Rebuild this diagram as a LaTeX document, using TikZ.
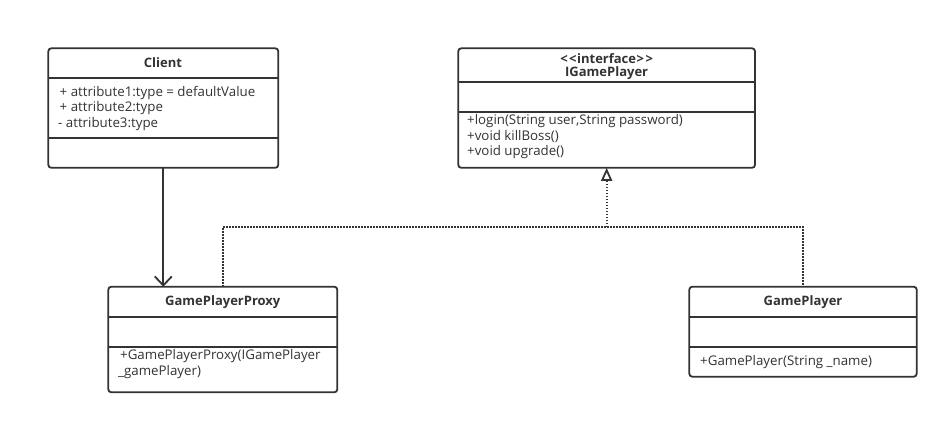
\documentclass[tikz,border=0pt]{standalone}
\usepackage{fontspec}
\setmainfont{Open Sans}
\usetikzlibrary{arrows.meta}
\definecolor{ink}{HTML}{333333}
\begin{document}
\begin{tikzpicture}[x=1pt,y=-1pt,
  box/.style={draw=ink, line width=1.8pt, rounded corners=3pt, outer sep=0pt, inner sep=0pt, anchor=north west},
  sepline/.style={draw=ink, line width=1.8pt},
  ttl/.style={font=\fontsize{13}{15}\selectfont\bfseries, text=ink, inner sep=0pt},
  txt/.style={font=\fontsize{13.3}{15}\selectfont, text=ink, inner sep=0pt, anchor=west},
  assoc/.style={draw=ink, line width=1.8pt, -{Straight Barb[length=9pt,width=17pt,line width=1.8pt]}},
  dotline/.style={draw=ink, line width=1.8pt, dash pattern=on 1.5pt off 1.5pt},
  realz/.style={dotline, -{Triangle[open,length=13pt,width=11pt,line width=1.8pt]}}]
\useasboundingbox (0,0) rectangle (949,424);
\fill[white] (0,0) rectangle (949,424);

% Client
\node[box, minimum width=230pt, minimum height=119.5pt] (client) at (48.3,48.3) {};
\draw[sepline] (client.west |- 0,78) -- (client.east |- 0,78);
\draw[sepline] (client.west |- 0,138) -- (client.east |- 0,138);
\node[ttl] (clientT) at (163,63) {Client};
\node[txt] (ca1) at (59.5,92.7) {+ attribute1:type = defaultValue};
\node[txt] (ca2) at (59.5,108.3) {+ attribute2:type};
\node[txt] (ca3) at (58,123.8) {- attribute3:type};

% IGamePlayer
\node[box, minimum width=296.7pt, minimum height=119.5pt] (ig) at (458.3,48.3) {};
\draw[sepline] (ig.west |- 0,82.3) -- (ig.east |- 0,82.3);
\draw[sepline] (ig.west |- 0,111.7) -- (ig.east |- 0,111.7);
\node[ttl] (igS) at (606.6,58.3) {<\kern1.5pt<\kern0.5pt interface\kern0.5pt>\kern1.5pt>};
\node[ttl] (igT) at (606.6,73.3) {IGamePlayer};
\node[txt] (im1) at (467,121) {+login(String user,String password)};
\node[txt] (im2) at (467,136.7) {+void killBoss()};
\node[txt] (im3) at (467,152.3) {+void upgrade()};

% GamePlayerProxy
\node[box, minimum width=229pt, minimum height=105.6pt] (proxy) at (108.3,286.7) {};
\draw[sepline] (proxy.west |- 0,316.7) -- (proxy.east |- 0,316.7);
\draw[sepline] (proxy.west |- 0,346.7) -- (proxy.east |- 0,346.7);
\node[ttl] (proxyT) at (222.8,301.7) {GamePlayerProxy};
\node[txt] (pm1) at (120,356) {+GamePlayerProxy(IGamePlayer};
\node[txt] (pm2) at (118,371.7) {\_gamePlayer)};

% GamePlayer
\node[box, minimum width=227.4pt, minimum height=90pt] (gp) at (689.3,286.7) {};
\draw[sepline] (gp.west |- 0,316.7) -- (gp.east |- 0,316.7);
\draw[sepline] (gp.west |- 0,346.7) -- (gp.east |- 0,346.7);
\node[ttl] (gpT) at (803,301.7) {GamePlayer};
\node[txt] (gm1) at (700,361.7) {+GamePlayer(String \_name)};

% connectors
\coordinate (j) at (ig.south |- 0,227);
\draw[assoc] (client.south) -- (client.south |- proxy.north);
\draw[dotline] (proxy.north) |- (j) -| (gp.north);
\draw[realz] (j) -- (ig.south);
\end{tikzpicture}
\end{document}
